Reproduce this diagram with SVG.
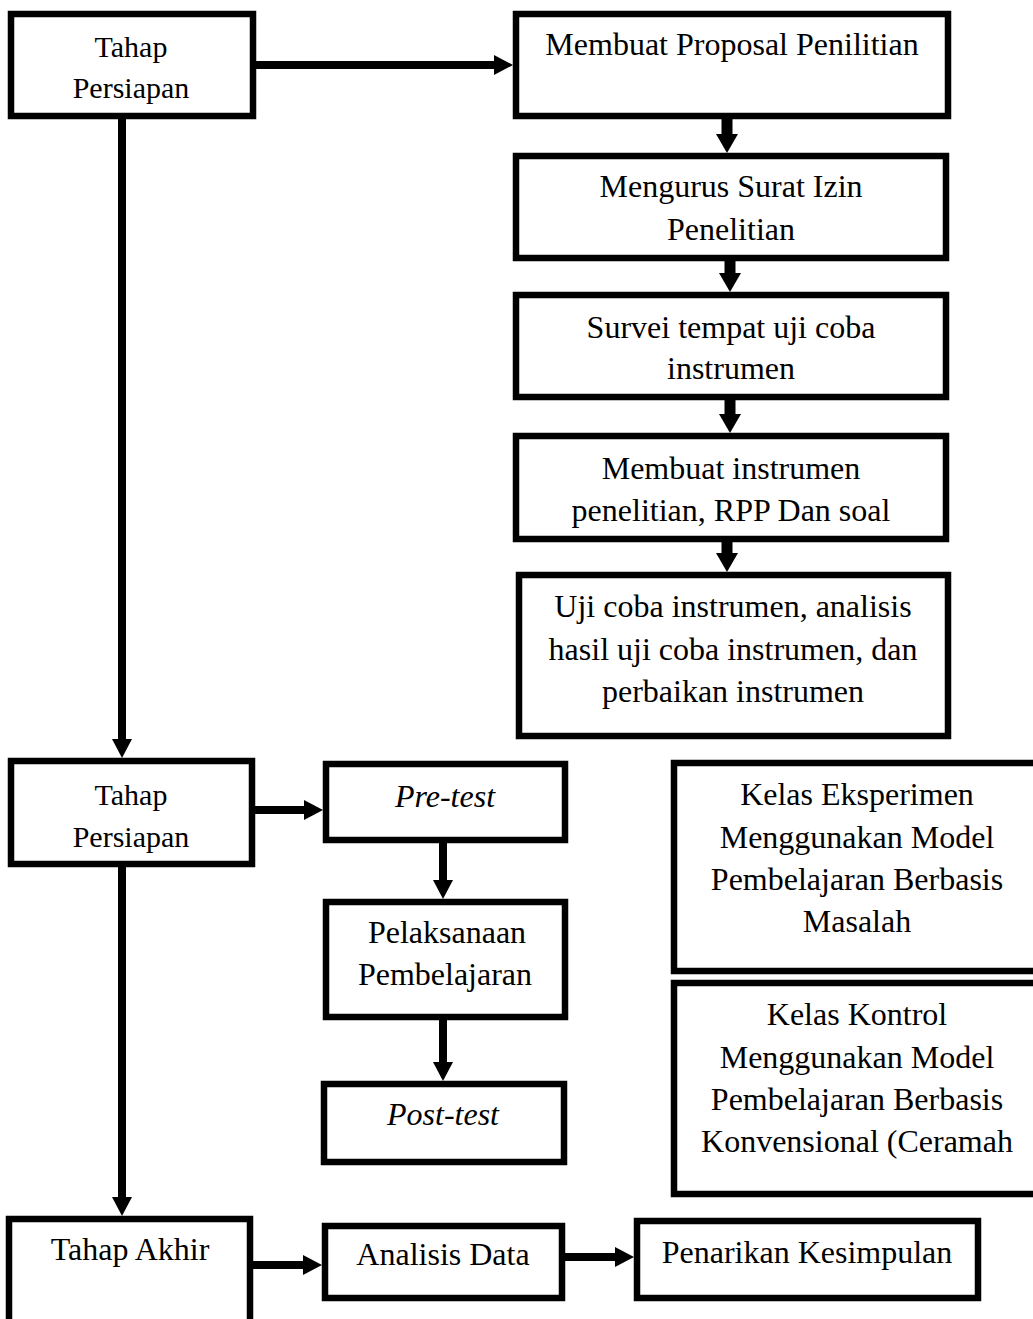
<svg xmlns="http://www.w3.org/2000/svg" width="1033" height="1319" viewBox="0 0 1033 1319">
<style>
  .box { fill: #ffffff; stroke: #000000; stroke-width: 6.5; }
  .t { font-family: "Liberation Serif", "Times New Roman", serif; font-size: 32px; fill: #000000; text-anchor: middle; }
  .t30 { font-size: 30px; }
  .it { font-style: italic; }
  .c { stroke: #000000; stroke-width: 8; fill: none; }
  .cw { stroke: #000000; stroke-width: 11; fill: none; }
</style>
<defs>
  <marker id="ah" markerUnits="userSpaceOnUse" markerWidth="20" markerHeight="21" refX="1" refY="10" orient="auto" overflow="visible">
    <path d="M0,0 L19,10 L0,20 Z" fill="#000000"/>
  </marker>
  <marker id="ahw" markerUnits="userSpaceOnUse" markerWidth="20" markerHeight="23" refX="1" refY="11" orient="auto" overflow="visible">
    <path d="M0,0 L19,11 L0,22 Z" fill="#000000"/>
  </marker>
</defs>
<rect x="0" y="0" width="1033" height="1319" fill="#ffffff"/>

<g id="connectors">
  <line class="c" x1="256" y1="65" x2="495" y2="65" marker-end="url(#ah)"/>
  <line class="cw" x1="727" y1="119" x2="727" y2="135" marker-end="url(#ahw)"/>
  <line class="cw" x1="730" y1="261" x2="730" y2="274" marker-end="url(#ahw)"/>
  <line class="cw" x1="730" y1="400" x2="730" y2="415" marker-end="url(#ahw)"/>
  <line class="cw" x1="727" y1="542" x2="727" y2="554" marker-end="url(#ahw)"/>
  <line class="c" x1="122" y1="119" x2="122" y2="740" marker-end="url(#ah)"/>
  <line class="c" x1="255" y1="810" x2="305" y2="810" marker-end="url(#ah)"/>
  <line class="c" x1="443" y1="843" x2="443" y2="881" marker-end="url(#ah)"/>
  <line class="c" x1="443" y1="1020" x2="443" y2="1063" marker-end="url(#ah)"/>
  <line class="c" x1="122" y1="867" x2="122" y2="1198" marker-end="url(#ah)"/>
  <line class="c" x1="253" y1="1265" x2="304" y2="1265" marker-end="url(#ah)"/>
  <line class="c" x1="565" y1="1257" x2="616" y2="1257" marker-end="url(#ah)"/>
</g>

<g id="tahap-persiapan-1">
  <rect class="box" x="11" y="14" width="242" height="102"/>
  <text class="t t30" x="131" y="57">Tahap</text>
  <text class="t t30" x="131" y="98">Persiapan</text>
</g>
<g id="membuat-proposal">
  <rect class="box" x="516" y="14" width="432" height="102"/>
  <text class="t" x="732" y="55">Membuat Proposal Penilitian</text>
</g>
<g id="mengurus-surat">
  <rect class="box" x="516" y="156" width="430" height="102"/>
  <text class="t" x="731" y="197">Mengurus Surat Izin</text>
  <text class="t" x="731" y="240">Penelitian</text>
</g>
<g id="survei">
  <rect class="box" x="516" y="295" width="430" height="102"/>
  <text class="t" x="731" y="338">Survei tempat uji coba</text>
  <text class="t" x="731" y="379">instrumen</text>
</g>
<g id="membuat-instrumen">
  <rect class="box" x="516" y="436" width="430" height="103"/>
  <text class="t" x="731" y="479">Membuat instrumen</text>
  <text class="t" x="731" y="521">penelitian, RPP Dan soal</text>
</g>
<g id="uji-coba">
  <rect class="box" x="519" y="575" width="429" height="161"/>
  <text class="t" x="733" y="617">Uji coba instrumen, analisis</text>
  <text class="t" x="733" y="660">hasil uji coba instrumen, dan</text>
  <text class="t" x="733" y="702">perbaikan instrumen</text>
</g>
<g id="tahap-persiapan-2">
  <rect class="box" x="11" y="761" width="241" height="103"/>
  <text class="t t30" x="131" y="805">Tahap</text>
  <text class="t t30" x="131" y="847">Persiapan</text>
</g>
<g id="pre-test">
  <rect class="box" x="326" y="764" width="239" height="76"/>
  <text class="t it" x="445" y="807">Pre-test</text>
</g>
<g id="pelaksanaan">
  <rect class="box" x="326" y="902" width="239" height="115"/>
  <text class="t" x="447" y="943">Pelaksanaan</text>
  <text class="t" x="445" y="985">Pembelajaran</text>
</g>
<g id="post-test">
  <rect class="box" x="324" y="1084" width="240" height="78"/>
  <text class="t it" x="443" y="1125">Post-test</text>
</g>
<g id="kelas-eksperimen">
  <rect class="box" x="674" y="763" width="370" height="208"/>
  <text class="t" x="857" y="805">Kelas Eksperimen</text>
  <text class="t" x="857" y="848">Menggunakan Model</text>
  <text class="t" x="857" y="890">Pembelajaran Berbasis</text>
  <text class="t" x="857" y="932">Masalah</text>
</g>
<g id="kelas-kontrol">
  <rect class="box" x="674" y="983" width="370" height="211"/>
  <text class="t" x="857" y="1025">Kelas Kontrol</text>
  <text class="t" x="857" y="1068">Menggunakan Model</text>
  <text class="t" x="857" y="1110">Pembelajaran Berbasis</text>
  <text class="t" x="857" y="1152">Konvensional (Ceramah</text>
</g>
<g id="tahap-akhir">
  <rect class="box" x="9" y="1219" width="241" height="106"/>
  <text class="t" x="130" y="1260">Tahap Akhir</text>
</g>
<g id="analisis-data">
  <rect class="box" x="325" y="1226" width="237" height="72"/>
  <text class="t" x="443" y="1265">Analisis Data</text>
</g>
<g id="penarikan-kesimpulan">
  <rect class="box" x="637" y="1221" width="341" height="77"/>
  <text class="t" x="807" y="1263">Penarikan Kesimpulan</text>
</g>
</svg>
